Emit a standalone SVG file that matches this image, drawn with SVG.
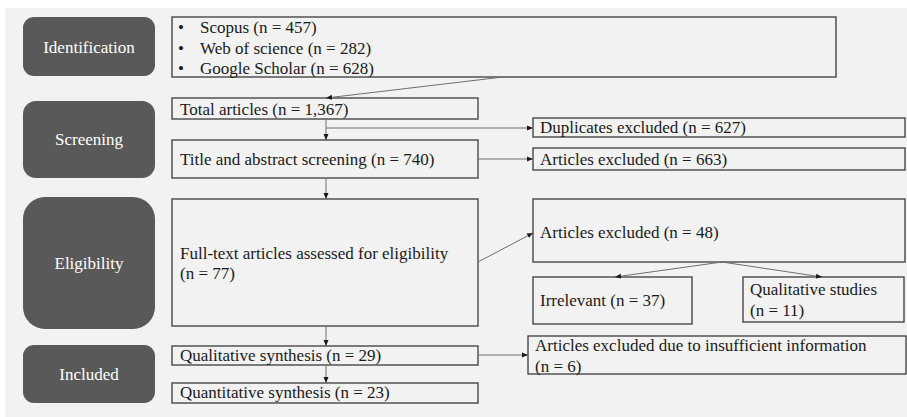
<svg xmlns="http://www.w3.org/2000/svg" width="907" height="417" viewBox="0 0 907 417">
<defs>
<marker id="ah" viewBox="0 0 6 6" refX="6" refY="3" markerWidth="6" markerHeight="6" markerUnits="userSpaceOnUse" orient="auto">
<path d="M0,0.5 L6,3 L0,5.5 Z" fill="#1a1a1a"/>
</marker>
<style>
.phase{fill:#595959}
.pt{font-family:'Liberation Serif','Times New Roman','DejaVu Serif',serif;font-size:17px;fill:#ffffff;text-anchor:middle}
.box{fill:#f2f2f2;stroke:#3a3a3a;stroke-width:1.3}
.t{font-family:'Liberation Serif','Times New Roman','DejaVu Serif',serif;font-size:17px;fill:#1a1a1a}
.c{fill:none;stroke:#6e6e6e;stroke-width:1;marker-end:url(#ah)}
</style>
</defs>
<rect x="0" y="0" width="907" height="417" fill="#ffffff"/>
<rect x="5" y="8" width="902" height="409" fill="#f2f2f2"/>

<g id="phase-identification"><rect class="phase" x="23" y="17" width="132" height="59" rx="11"/><text class="pt" x="89" y="52.5" font-family="Liberation Serif">Identification</text></g>
<g id="phase-screening"><rect class="phase" x="23" y="101" width="132" height="77" rx="13"/><text class="pt" x="89" y="145">Screening</text></g>
<g id="phase-eligibility"><rect class="phase" x="23" y="197" width="132" height="132" rx="22"/><text class="pt" x="89" y="269">Eligibility</text></g>
<g id="phase-included"><rect class="phase" x="23" y="345" width="132" height="58" rx="11"/><text class="pt" x="89" y="380">Included</text></g>

<g id="sources"><rect class="box" x="172" y="17" width="664" height="60"/>
<text class="t" x="178" y="33">•</text><text class="t" x="200" y="33">Scopus (n = 457)</text>
<text class="t" x="178" y="54">•</text><text class="t" x="200" y="54">Web of science (n = 282)</text>
<text class="t" x="178" y="74">•</text><text class="t" x="200" y="74">Google Scholar (n = 628)</text></g>

<g id="total"><rect class="box" x="172" y="98" width="306" height="21"/><text class="t" x="180" y="115">Total articles (n = 1,367)</text></g>
<g id="screening-box"><rect class="box" x="172" y="140" width="306" height="38"/><text class="t" x="180" y="165">Title and abstract screening (n = 740)</text></g>
<g id="fulltext"><rect class="box" x="172" y="199" width="306" height="127"/><text class="t" x="180" y="259">Full-text articles assessed for eligibility</text><text class="t" x="180" y="279">(n = 77)</text></g>
<g id="qual"><rect class="box" x="172" y="346" width="306" height="19"/><text class="t" x="180" y="361">Qualitative synthesis (n = 29)</text></g>
<g id="quant"><rect class="box" x="172" y="383" width="306" height="20"/><text class="t" x="180" y="398">Quantitative synthesis (n = 23)</text></g>

<g id="duplicates"><rect class="box" x="533" y="118" width="372" height="19"/><text class="t" x="540" y="133">Duplicates excluded (n = 627)</text></g>
<g id="excl663"><rect class="box" x="533" y="148" width="372" height="22"/><text class="t" x="540" y="165">Articles excluded (n = 663)</text></g>
<g id="excl48"><rect class="box" x="533" y="199" width="372" height="63"/><text class="t" x="540" y="238">Articles excluded (n = 48)</text></g>
<g id="irrelevant"><rect class="box" x="533" y="277" width="159" height="47"/><text class="t" x="540" y="306">Irrelevant (n = 37)</text></g>
<g id="qualstudies"><rect class="box" x="743" y="277" width="161" height="45"/><text class="t" x="750" y="295">Qualitative studies</text><text class="t" x="750" y="316">(n = 11)</text></g>
<g id="insufficient"><rect class="box" x="528" y="336" width="378" height="38"/><text class="t" x="535" y="351">Articles excluded due to insufficient information</text><text class="t" x="535" y="372">(n = 6)</text></g>

<g id="connectors">
<path class="c" d="M503,77 L326,98"/>
<path class="c" d="M326,119 L326,140"/>
<path class="c" d="M326,128 L533,128"/>
<path class="c" d="M478,159 L533,159"/>
<path class="c" d="M326,178 L326,199"/>
<path class="c" d="M478,262 L533,233"/>
<path class="c" d="M722,262 L615,277"/>
<path class="c" d="M722,262 L822,277"/>
<path class="c" d="M326,326 L326,346"/>
<path class="c" d="M326,365 L326,383"/>
<path class="c" d="M478,355 L528,355"/>
</g>
</svg>
